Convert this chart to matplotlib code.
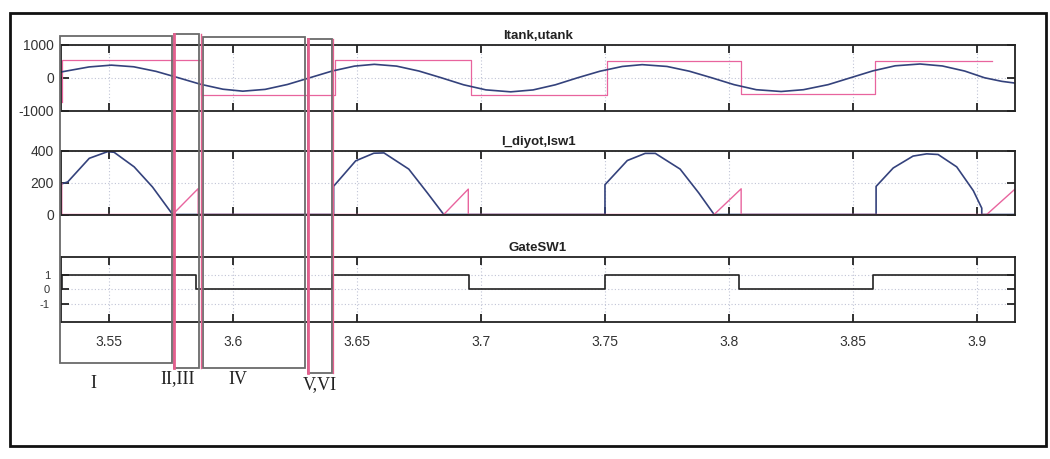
import numpy as np
import matplotlib
matplotlib.use("Agg")
from matplotlib import pyplot as plt
from matplotlib.patches import Rectangle
from matplotlib.lines import Line2D

plt.rcParams['font.family'] = ['Liberation Sans', 'DejaVu Sans']
plt.rcParams['axes.unicode_minus'] = False

# tank current (A) and inverter voltage (V)
t_itank = [3.531, 3.542, 3.551, 3.560, 3.569, 3.578, 3.587, 3.596, 3.604, 3.613,
           3.622, 3.631, 3.640, 3.649, 3.657, 3.666, 3.675, 3.684, 3.693, 3.702,
           3.712, 3.721, 3.730, 3.739, 3.748, 3.757, 3.765, 3.775, 3.784, 3.793,
           3.802, 3.811, 3.821, 3.830, 3.840, 3.849, 3.858, 3.867, 3.877, 3.886,
           3.895, 3.903, 3.910, 3.915]
itank = [180, 330, 385, 335, 195, 0, -200, -350, -410, -355,
         -205, 0, 205, 355, 410, 355, 205, 0, -215, -370,
         -430, -372, -215, 0, 200, 345, 400, 345, 200, 0,
         -210, -365, -420, -365, -210, 0, 210, 365, 420, 360,
         205, 0, -110, -160]

t_utank = [3.531, 3.531, 3.587, 3.641, 3.696, 3.751, 3.805, 3.859, 3.906]
utank = [-750, 540, -530, 530, -530, 500, -510, 500, 500]

# diode and switch currents
t_idiyot = [3.5314, 3.5334, 3.5421, 3.5495, 3.5521, 3.5602, 3.5676, 3.5757,
            3.6406, 3.6406, 3.6495, 3.6568, 3.6609, 3.6709, 3.6784, 3.6850,
            3.7500, 3.7500, 3.7590, 3.7662, 3.7703, 3.7803, 3.7878, 3.7940,
            3.8593, 3.8593, 3.8662, 3.8742, 3.8797, 3.8843, 3.8918, 3.8985,
            3.9019, 3.9019, 3.9153]
idiyot = [195, 205, 354, 396, 392, 300, 173, 0,
          0, 178, 338, 386, 388, 286, 136, 0,
          0, 188, 340, 385, 385, 286, 136, 0,
          0, 177, 293, 368, 382, 378, 300, 150,
          40, 0, 0]

t_isw1 = [3.5310, 3.5310, 3.5757, 3.5860, 3.5860, 3.6850, 3.6949, 3.6949,
          3.7940, 3.8049, 3.8049, 3.9039, 3.9153]
isw1 = [195, 0, 0, 163, 0, 0, 160, 0, 0, 162, 0, 0, 160]

# gate signal of SW1
t_gate = [3.531, 3.531, 3.585, 3.640, 3.695, 3.750, 3.804, 3.858, 3.9153]
gate = [0, 1, 0, 1, 0, 1, 0, 1, 1]

xticks = [3.55, 3.6, 3.65, 3.7, 3.75, 3.8, 3.85, 3.9]
xtick_labels = ['3.55', '3.6', '3.65', '3.7', '3.75', '3.8', '3.85', '3.9']
xlim = (3.5307, 3.9153)

# interval boxes: (left, right, top, bottom) in pixels, label, label position
intervals = [(60, 171.5, 36, 363, 'I', 93, 383),
             (174, 198.5, 34, 368, 'II,III', 178, 379),
             (202.5, 305, 37, 368, 'IV', 238, 379),
             (308, 331.5, 39, 373, 'V,VI', 320, 385)]
# pink marker lines on box edges: x, width, which box
pink_edges = [(174, 2.0, 1), (200.5, 1.0, 1), (307.5, 2.0, 3), (332.5, 0.9, 3)]

W, H = 1050, 459
BLUE = '#34427c'
PINK = '#e8649e'

fig = plt.figure(figsize=(W / 100, H / 100), dpi=100)


def px(x, y):
    return x / W, 1 - y / H


def panel(y0, y1):
    ax = fig.add_axes([61 / W, 1 - y1 / H, 954 / W, (y1 - y0) / H])
    ax.set_xlim(*xlim)
    ax.set_xticks(xticks)
    ax.tick_params(direction='in', length=6, width=1.3, top=True, right=True,
                   labelsize=10, labelcolor='#333333', pad=5, color='#222222')
    ax.grid(True, color='#c0c4d6', linestyle=(0, (1, 2)), linewidth=0.8)
    for s in ax.spines.values():
        s.set_color('#222222')
        s.set_linewidth(1.3)
    return ax


ax1 = panel(45, 110.5)
ax1.step(t_utank, utank, where='post', color=PINK, lw=0.9)
ax1.plot(t_itank, itank, color=BLUE, lw=1.2)
ax1.set_ylim(-1000, 1000)
ax1.set_yticks([-1000, 0, 1000])
ax1.set_yticklabels(['-1000', '0', '1000'])
ax1.set_xticklabels([])
ax1.set_title('Itank,utank', fontsize=9.5, fontweight='bold', color='#222222', pad=4)

ax2 = panel(151, 214.5)
ax2.plot(t_idiyot, idiyot, color=BLUE, lw=1.2)
ax2.plot(t_isw1, isw1, color=PINK, lw=1.0)
ax2.set_ylim(0, 400)
ax2.set_yticks([0, 200, 400])
ax2.set_xticklabels([])
ax2.set_title('I_diyot,Isw1', fontsize=9.5, fontweight='bold', color='#222222', pad=4)

ax3 = panel(257, 321.5)
ax3.step(t_gate, gate, where='post', color='#222222', lw=1.2)
ax3.set_ylim(-2.2, 2.2)
ax3.set_yticks([-1, 0, 1])
ax3.tick_params(axis='y', labelsize=8, pad=8)
ax3.tick_params(axis='x', pad=10)
ax3.set_xticklabels(xtick_labels)
ax3.set_title('GateSW1', fontsize=9.5, fontweight='bold', color='#222222', pad=4)

# interval boxes drawn over the plots
for x0, x1, y0, y1, lab, lx, ly in intervals:
    fig.add_artist(Rectangle(px(x0, y1), (x1 - x0) / W, (y1 - y0) / H,
                             transform=fig.transFigure, fill=False,
                             edgecolor='#6a6a6a', lw=1.3, zorder=5))
    fig.text(*px(lx, ly), lab, family='Liberation Serif', fontsize=13,
             ha='center', va='center', color='#222222')

for x, lw, k in pink_edges:
    y0, y1 = intervals[k][2], intervals[k][3]
    fig.add_artist(Line2D([x / W, x / W], [1 - y0 / H, 1 - y1 / H],
                          transform=fig.transFigure, color='#e4608f', lw=lw, zorder=6))

# outer frame
fig.add_artist(Rectangle(px(10, 445.5), 1036 / W, 433 / H, transform=fig.transFigure,
                         fill=False, edgecolor='#111111', lw=2.0, zorder=5))

fig.savefig('out.png', dpi=100)
